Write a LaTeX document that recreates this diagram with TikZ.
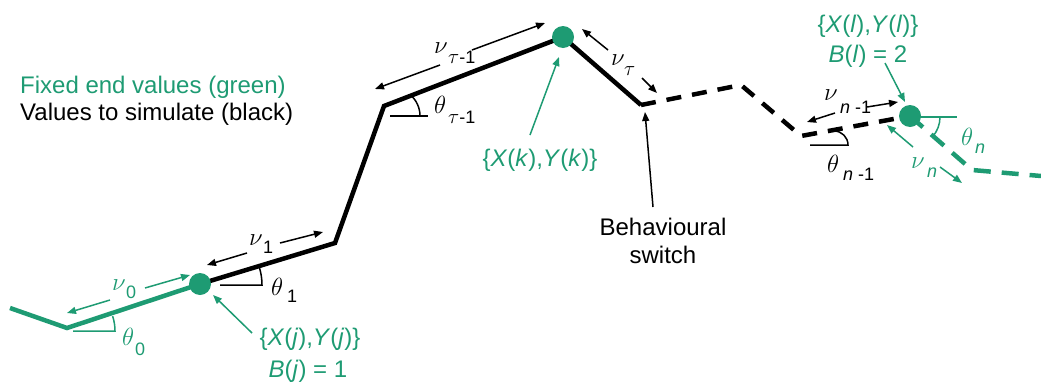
\documentclass[tikz,border=0pt]{standalone}
\usepackage{fontspec}
\setmainfont{Liberation Sans}
\usetikzlibrary{arrows.meta}
\definecolor{grn}{RGB}{30,155,115}
\newcommand{\tsub}{{\fontsize{21}{21}\selectfont$\tau$}}
\begin{document}
\begin{tikzpicture}[x=1pt,y=-1pt,
  seg/.style={line width=4.5pt},
  dsh/.style={line width=4.5pt, dash pattern=on 15pt off 11pt},
  gdsh/.style={line width=4.5pt, dash pattern=on 17pt off 11pt, grn},
  arr/.style={line width=1.5pt,-{Triangle[length=9pt,width=7pt]}},
  ang/.style={line width=1.5pt},
  txt/.style={font=\fontsize{24}{28}\selectfont, inner sep=0pt, anchor=base},
  gk/.style={font=\fontsize{30}{30}\selectfont, inner sep=0pt, anchor=base west},
  gt/.style={font=\fontsize{25}{25}\selectfont, inner sep=0pt, anchor=base west},
  sb/.style={font=\fontsize{18}{18}\selectfont, inner sep=0pt, anchor=base west},
  dot/.style={circle, fill=grn, minimum size=22pt, inner sep=0pt}]
\useasboundingbox (0,0) rectangle (1041,383);
% path points
\coordinate (g0) at (10,308);
\coordinate (g1) at (67,328);
\coordinate (jc) at (200,284);
\coordinate (b1) at (335,243);
\coordinate (b2) at (384,106);
\coordinate (kc) at (563,37);
\coordinate (b3) at (641,105);
\coordinate (d1) at (741,85);
\coordinate (d2) at (801,136);
\coordinate (lc) at (910,116);
\coordinate (e1) at (972,170);
\coordinate (e2) at (1041,176);
% path
\draw[seg,grn] (g0) -- (g1) -- (jc);
\draw[seg] (jc) -- (b1) -- (b2) -- (kc) -- (b3);
\draw[dsh] (b3) -- (d1) -- (d2) -- (lc);
\draw[gdsh] (lc) -- (e1) -- (e2);
% angle marks
\draw[ang,grn] (73,331) -- (115,331) arc[start angle=0,end angle=-18,radius=48];
\draw[ang] (220,285) -- (262,285) arc[start angle=0,end angle=-17,radius=60];
\draw[ang] (390,116) -- (428,116);
\draw[ang] (420,116) arc[start angle=0,end angle=-50,radius=28];
\draw[ang] (810,145) -- (848,145) arc[start angle=0,end angle=-90,radius=14];
\draw[ang,grn] (920,117) -- (957,117);
\draw[ang,grn] (940,117) arc[start angle=0,end angle=41,radius=30];
% dots
\node[dot] (j) at (jc) {};
\node[dot] (k) at (kc) {};
\node[dot] (l) at (lc) {};
% length arrows
\coordinate (a0a) at (110,300); \coordinate (a0b) at (67,313);
\coordinate (a0c) at (145,288); \coordinate (a0d) at (190,275);
\draw[arr,grn] (a0a) -- (a0b); \draw[arr,grn] (a0c) -- (a0d);
\coordinate (a1a) at (247,253); \coordinate (a1b) at (207,265);
\coordinate (a1c) at (280,243); \coordinate (a1d) at (323,232);
\draw[arr] (a1a) -- (a1b); \draw[arr] (a1c) -- (a1d);
\coordinate (a2a) at (440,65); \coordinate (a2b) at (375,89);
\coordinate (a2c) at (472,50); \coordinate (a2d) at (545,23);
\draw[arr] (a2a) -- (a2b); \draw[arr] (a2c) -- (a2d);
\coordinate (a3a) at (608,50); \coordinate (a3b) at (582,29);
\coordinate (a3c) at (642,78); \coordinate (a3d) at (657,93);
\draw[arr] (a3a) -- (a3b); \draw[arr] (a3c) -- (a3d);
\coordinate (a4a) at (835,113); \coordinate (a4b) at (807,122);
\coordinate (a4c) at (867,107); \coordinate (a4d) at (898,102);
\draw[arr] (a4a) -- (a4b); \draw[arr] (a4c) -- (a4d);
\coordinate (a5a) at (913,147); \coordinate (a5b) at (887,125);
\coordinate (a5c) at (940,167); \coordinate (a5d) at (962,183);
\draw[arr,grn] (a5a) -- (a5b); \draw[arr,grn] (a5c) -- (a5d);
% texts
\node[txt,anchor=base west,text=grn] (t1) at (20,93) {Fixed end values (green)};
\node[txt,anchor=base west] (t2) at (20,120) {Values to simulate (black)};
\node[txt,text=grn] (tk) at (540,166) {\{\textit{X}(\textit{k}),\textit{Y}(\textit{k})\}};
\node[txt] (sw1) at (663,235) {Behavioural};
\node[txt] (sw2) at (663,263) {switch};
\node[txt,text=grn] (tj) at (310,345) {\{\textit{X}(\textit{j}),\textit{Y}(\textit{j})\}};
\node[txt,text=grn] (tj2) at (308,377) {\textit{B}(\textit{j}) = 1};
\node[txt,text=grn] (tl) at (868,32) {\{\textit{X}(\textit{l}),\textit{Y}(\textit{l})\}};
\node[txt,text=grn] (tl2) at (868,62) {\textit{B}(\textit{l}) = 2};
% pointer arrows
\coordinate (pj) at (252,333); \coordinate (pjh) at (213,295);
\draw[arr,grn] (pj) -- (pjh);
\coordinate (pk) at (530,135); \coordinate (pkh) at (559,57);
\draw[arr,grn] (pk) -- (pkh);
\coordinate (ps) at (653,207); \coordinate (psh) at (645,112);
\draw[arr] (ps) -- (psh);
\coordinate (pl) at (885,63); \coordinate (plh) at (905,102);
\draw[arr,grn] (pl) -- (plh);
% greek labels
\node[gk,text=grn] (n0) at (112,290) {$\nu$};
\node[sb,text=grn] (n0s) at (126,298) {0};
\node[gk] (n1) at (249,245) {$\nu$};
\node[sb] (n1s) at (263,253) {1};
\node[gk] (n2) at (434,53) {$\nu$};
\node[sb] (n2s) at (448,63) {\tsub-1};
\node[gk] (n3) at (611,65) {$\nu$};
\node[sb] (n3s) at (624,75) {\tsub};
\node[gk] (n4) at (824,100) {$\nu$};
\node[sb] (n4s) at (840,113) {\textit{n} -1};
\node[gk,text=grn] (n5) at (911,168) {$\nu$};
\node[sb,text=grn] (n5s) at (927,177) {\textit{n}};
\node[gt,text=grn] (h0) at (122,345) {$\theta$};
\node[sb,text=grn] (h0s) at (135,355) {0};
\node[gt] (h1) at (271,295) {$\theta$};
\node[sb] (h1s) at (287,302) {1};
\node[gt] (h2) at (434,113) {$\theta$};
\node[sb] (h2s) at (448,123) {\tsub-1};
\node[gt] (h4) at (827,172) {$\theta$};
\node[sb] (h4s) at (843,180) {\textit{n} -1};
\node[gt,text=grn] (h5) at (961,145) {$\theta$};
\node[sb,text=grn] (h5s) at (975,153) {\textit{n}};
\end{tikzpicture}
\end{document}
